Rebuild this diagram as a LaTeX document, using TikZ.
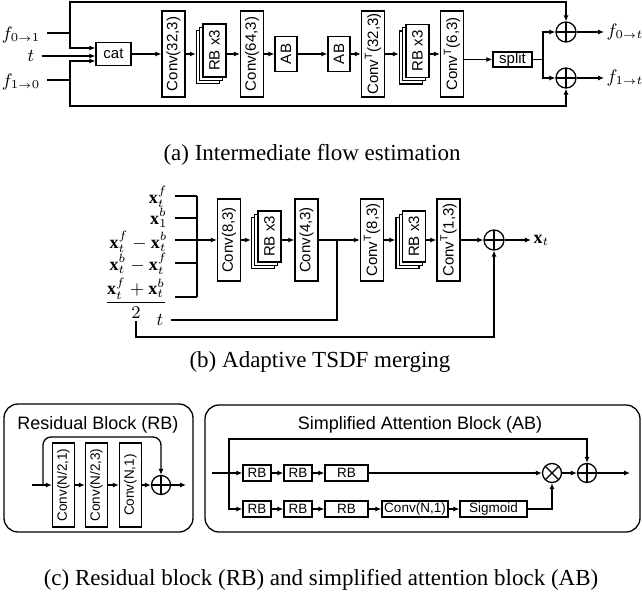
\documentclass[tikz,border=0pt]{standalone}
\usepackage{fontspec}
\setmainfont{Liberation Serif}
\setsansfont{Liberation Sans}
\usepackage{graphicx}
\usetikzlibrary{arrows.meta,shadows,calc}
\newcommand{\sarr}{{\scriptscriptstyle\to}}

\begin{document}
\begin{tikzpicture}[x=0.5pt, y=-0.5pt, line width=0.65pt,
    blk/.style={draw, fill=white, inner sep=0pt, font=\sffamily\fontsize{7.5}{8}\selectfont},
    vblk/.style={blk, minimum width=11.5pt, minimum height=43pt},
    rbstk/.style={blk, minimum width=11.5pt, minimum height=26.5pt,
        copy shadow={shadow xshift=-3.3pt, shadow yshift=-3.3pt},
        copy shadow={shadow xshift=-1.65pt, shadow yshift=-1.65pt}},
    cblk/.style={blk, font=\sffamily\fontsize{6.75}{7.5}\selectfont, minimum width=11pt, minimum height=42pt},
    sblk/.style={blk, font=\sffamily\fontsize{6.75}{7.5}\selectfont, minimum height=8pt},
    sumop/.style={draw, circle, minimum size=10pt, inner sep=0pt,
        path picture={\draw (path picture bounding box.north) -- (path picture bounding box.south)
            (path picture bounding box.west) -- (path picture bounding box.east);}},
    mulop/.style={draw, circle, minimum size=9.5pt, inner sep=0pt,
        path picture={\draw (path picture bounding box.north west) -- (path picture bounding box.south east)
            (path picture bounding box.north east) -- (path picture bounding box.south west);}},
    arr/.style={-{Latex[length=3pt, width=2.6pt]}},
    lbl/.style={font=\fontsize{9}{10}\selectfont},
    grp/.style={draw, rounded corners=7pt},
    ttl/.style={font=\sffamily\fontsize{9}{10}\selectfont},
    captxt/.style={font=\fontsize{11.5}{13}\selectfont, anchor=base}
]
\useasboundingbox (0,0) rectangle (642,599);

% (a) intermediate flow estimation
\node[lbl] (f01) at (21,35) {$f_{0\sarr1}$};
\node[lbl] (ta) at (31,56) {$t$};
\node[lbl] (f10) at (21,82) {$f_{1\sarr0}$};
\coordinate (ja) at (70,33);
\coordinate (jb) at (70,80);
\node[blk, minimum width=17.5pt, minimum height=11.5pt] (cat) at (113.5,54) {cat};
\node[vblk] (c1) at (173.5,54) {\rotatebox{90}{Conv(32,3)}};
\node[rbstk] (rb1) at (214.5,50.5) {\rotatebox{90}{RB x3}};
\node[vblk] (c2) at (252,54) {\rotatebox{90}{Conv(64,3)}};
\node[blk, minimum width=11pt, minimum height=17.5pt] (ab1) at (286,54) {\rotatebox{90}{AB}};
\node[blk, minimum width=11pt, minimum height=17.5pt] (ab2) at (339,54) {\rotatebox{90}{AB}};
\node[vblk] (c3) at (373,54) {\rotatebox{90}{Conv\textsuperscript{T}(32,3)}};
\node[rbstk] (rb2) at (417.5,51) {\rotatebox{90}{RB x3}};
\node[vblk] (c4) at (452,54) {\rotatebox{90}{Conv\textsuperscript{T}(6,3)}};
\node[blk, minimum width=19.5pt, minimum height=7.5pt] (split) at (512.5,59.5) {split};
\coordinate (js) at (543,59.5);
\node[sumop] (s1) at (566,32) {};
\node[sumop] (s2) at (566,78) {};
\node[lbl, anchor=west, inner sep=1pt] (f0t) at (604,32) {$f_{0\sarr t}$};
\node[lbl, anchor=west, inner sep=1pt] (f1t) at (604,78) {$f_{1\sarr t}$};

\draw (f01.east |- ja) -- (ja);
\draw (f10.east |- jb) -- (jb);
\draw[arr] (ja) |- (cat.west |- 0,48);
\draw[arr] (ta) -- (cat.west |- ta);
\draw[arr] (jb) |- (cat.west |- 0,61);
\draw[arr] (ja) -- (ja |- 0,2) -| (s1.north);
\draw[arr] (jb) -- (jb |- 0,106) -| (s2.south);
\draw[arr] (cat) -- (c1);
\draw[arr] (c1) -- ($(c1 -| rb1.west)+(-3.3pt,0)$);
\draw[arr] (c2 -| rb1.east) -- (c2);
\draw[arr] (c2) -- (ab1);
\draw[arr] (ab1) -- (ab2);
\draw[arr] (ab2) -- (c3);
\draw[arr] (c3) -- ($(c3 -| rb2.west)+(-3.3pt,0)$);
\draw[arr] (c4 -| rb2.east) -- (c4);
\draw[arr] (split.west -| c4.east) -- (split);
\draw (split) -- (js);
\draw[arr] (js) |- (s1);
\draw[arr] (js) |- (s2);
\draw[arr] (s1) -- (f0t);
\draw[arr] (s2) -- (f1t);

\node[captxt] (capa) at (312,160) {(a) Intermediate flow estimation};

% (b) adaptive TSDF merging
\node[lbl, anchor=base east, inner xsep=3.5pt, inner ysep=1pt] (lx1) at (175,203) {$\mathbf{x}_t^f$};
\node[lbl, anchor=base east, inner xsep=3.5pt, inner ysep=1pt] (lx2) at (175,224) {$\mathbf{x}_1^b$};
\node[lbl, anchor=base east, inner xsep=3.5pt, inner ysep=1pt] (lx3) at (175,248) {$\mathbf{x}_t^f-\mathbf{x}_t^b$};
\node[lbl, anchor=base east, inner xsep=3.5pt, inner ysep=1pt] (lx4) at (175,270) {$\mathbf{x}_t^b-\mathbf{x}_t^f$};
\node[lbl, anchor=base east, inner xsep=3.5pt, inner ysep=1pt] (lx5) at (175,306.5) {$\displaystyle\frac{\mathbf{x}_t^f+\mathbf{x}_t^b}{2}$};
\node[lbl] (tb) at (160,320) {$t$};
\foreach \i/\y in {1/196,2/218,3/240,4/263,5/297}
    \coordinate (bus\i) at (197,\y);
\foreach \i in {1,...,5}
    \draw (lx\i.east |- bus\i) -- (bus\i);
\draw (bus1) -- (bus5);

\node[vblk, minimum height=41pt] (cb1) at (229,240) {\rotatebox{90}{Conv(8,3)}};
\node[rbstk, minimum height=25.5pt] (rbb1) at (269.5,236.5) {\rotatebox{90}{RB x3}};
\node[vblk, minimum height=41pt] (cb2) at (306.5,240) {\rotatebox{90}{Conv(4,3)}};
\coordinate (jt) at (337,240);
\node[vblk, minimum height=41pt] (cb3) at (372,240) {\rotatebox{90}{Conv\textsuperscript{T}(8,3)}};
\node[rbstk, minimum height=25.5pt] (rbb2) at (414,236.5) {\rotatebox{90}{RB x3}};
\node[vblk, minimum height=41pt] (cb4) at (448.5,240) {\rotatebox{90}{Conv\textsuperscript{T}(1,3)}};
\node[sumop] (sb) at (494,240) {};
\node[lbl, anchor=west, inner sep=1pt] (xt) at (531,240) {$\mathbf{x}_t$};

\draw[arr] (bus3) -- (cb1);
\draw[arr] (cb1) -- ($(cb1 -| rbb1.west)+(-3.3pt,0)$);
\draw[arr] (cb2 -| rbb1.east) -- (cb2);
\draw (cb2) -- (jt);
\draw (tb) -| (jt);
\draw[arr] (jt) -- (cb3);
\draw[arr] (cb3) -- ($(cb3 -| rbb2.west)+(-3.3pt,0)$);
\draw[arr] (cb4 -| rbb2.east) -- (cb4);
\draw[arr] (cb4) -- (sb);
\draw[arr] (sb) -- (xt);
\draw[arr] (lx5.south) -- (lx5.south |- 0,337) -| (sb.south);

\node[captxt] (capb) at (320,367) {(b) Adaptive TSDF merging};

% (c) residual block
\node[grp, minimum width=94.5pt, minimum height=64pt] (rbg) at (98.5,468) {};
\node[ttl] (rbt) at (98,425) {Residual Block (RB)};
\coordinate (rin) at (32,485);
\coordinate (rj) at (43,485);
\node[cblk] (rc1) at (63.5,485) {\rotatebox{90}{Conv(N/2,1)}};
\node[cblk] (rc2) at (96.5,485) {\rotatebox{90}{Conv(N/2,3)}};
\node[cblk] (rc3) at (130.5,485) {\rotatebox{90}{Conv(N,1)}};
\node[sumop, minimum size=9.5pt] (rs) at (161,485) {};
\coordinate (rout) at (186,485);
\draw (rin) -- (rj);
\draw[arr] (rj) -- (rc1);
\draw[arr, rounded corners=4pt] (rj) -- (rj |- 0,437) -| (rs.north);
\draw[arr] (rc1) -- (rc2);
\draw[arr] (rc2) -- (rc3);
\draw[arr] (rc3) -- (rs);
\draw[arr] (rs) -- (rout);

% (c) simplified attention block
\node[grp, minimum width=217.5pt, minimum height=63.5pt] (abg) at (422.5,468.5) {};
\node[ttl] (abt) at (420,425) {Simplified Attention Block (AB)};
\coordinate (ain) at (212,473);
\coordinate (aj) at (229,473);
\node[sblk, minimum width=14pt] (ar1) at (257,473) {RB};
\node[sblk, minimum width=14pt] (ar2) at (298,473) {RB};
\node[sblk, minimum width=21.5pt] (ar3) at (346.5,473) {RB};
\node[sblk, minimum width=14pt] (br1) at (257,509) {RB};
\node[sblk, minimum width=14pt] (br2) at (298,509) {RB};
\node[sblk, minimum width=21.5pt] (br3) at (346.5,509) {RB};
\node[sblk, minimum width=33pt] (bcv) at (415,509) {Conv(N,1)};
\node[sblk, minimum width=33.5pt] (bsg) at (493.5,509) {Sigmoid};
\node[mulop] (am) at (552,473) {};
\node[sumop, minimum size=9.5pt] (as) at (587,473) {};
\coordinate (aout) at (630,473);
\draw (ain) -- (aj);
\draw[arr] (aj) -- (ar1);
\draw[arr] (aj) |- (br1);
\draw[arr] (aj) -- (aj |- 0,439) -| (as.north);
\draw[arr] (ar1) -- (ar2);
\draw[arr] (ar2) -- (ar3);
\draw[arr] (ar3) -- (am);
\draw[arr] (br1) -- (br2);
\draw[arr] (br2) -- (br3);
\draw[arr] (br3) -- (bcv);
\draw[arr] (bcv) -- (bsg);
\draw[arr] (bsg) -| (am.south);
\draw[arr] (am) -- (as);
\draw[arr] (as) -- (aout);

\node[captxt] (capc) at (321,585) {(c) Residual block (RB) and simplified attention block (AB)};
\end{tikzpicture}
\end{document}
